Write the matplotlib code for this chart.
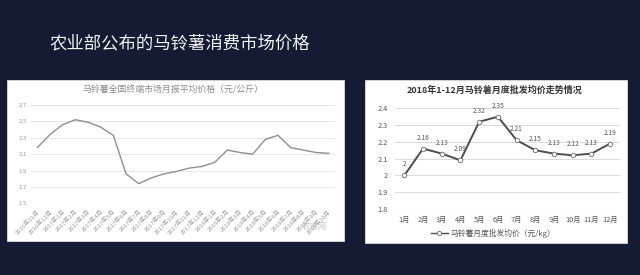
import numpy as np
import matplotlib
matplotlib.use("Agg")
import matplotlib.pyplot as plt
from matplotlib.patches import Rectangle
from matplotlib.lines import Line2D

plt.rcParams['font.family'] = ['Noto Sans CJK SC', 'DejaVu Sans']

# data
main_title = "农业部公布的马铃薯消费市场价格"

left_title = "马铃薯全国终端市场月报平均价格（元/公斤）"
left_months = ["2016年11月", "2016年12月"] + [f"2017年{m}月" for m in range(1, 13)] \
    + [f"2018年{m}月" for m in range(1, 11)]
left_prices = [2.18, 2.34, 2.46, 2.52, 2.49, 2.43, 2.33, 1.86, 1.74, 1.81, 1.86, 1.89,
               1.93, 1.95, 2.00, 2.15, 2.12, 2.10, 2.28, 2.33, 2.18, 2.15, 2.12, 2.11]
left_yticks = [1.5, 1.7, 1.9, 2.1, 2.3, 2.5, 2.7]

right_title = "2018年1-12月马铃薯月度批发均价走势情况"
right_months = [f"{m}月" for m in range(1, 13)]
right_prices = [2.00, 2.16, 2.13, 2.09, 2.32, 2.35, 2.21, 2.15, 2.13, 2.12, 2.13, 2.19]
right_yticks = [1.8, 1.9, 2.0, 2.1, 2.2, 2.3, 2.4]
right_legend = "马铃薯月度批发均价（元/kg）"

W, H = 640, 275
fig = plt.figure(figsize=(6.4, 2.75), dpi=100)
fig.patch.set_facecolor("#151b34")


def px(x0, y0, x1, y1):
    # pixel box (top-left origin) -> figure fraction rect
    return [x0 / W, 1 - y1 / H, (x1 - x0) / W, (y1 - y0) / H]


# white panels
for box in [px(7, 80, 344, 241), px(365, 80, 627, 243)]:
    fig.patches.append(Rectangle((box[0], box[1]), box[2], box[3],
                                 transform=fig.transFigure, facecolor="white",
                                 edgecolor="#dddddd", lw=0.6, zorder=-5))

fig.text(49 / W, 1 - 43 / H, main_title, color="#f2f2f2", fontsize=12.5,
         ha="left", va="center")

# left chart
ax1 = fig.add_axes(px(31, 105, 335, 203.3))
x1 = np.arange(len(left_prices))
ax1.plot(x1, left_prices, color="#8f8f8f", lw=1.0)
ax1.set_xlim(-0.5, len(left_prices) - 0.5)
ax1.set_ylim(1.5, 2.7)
ax1.set_yticks(left_yticks)
ax1.set_yticklabels([f"{v:.1f}" for v in left_yticks])
ax1.set_xticks(x1)
ax1.set_xticklabels(left_months, rotation=45, ha="right", rotation_mode="anchor")
ax1.tick_params(axis="x", length=0, colors="#999999", labelsize=4.3, pad=4)
ax1.tick_params(axis="y", length=0, colors="#999999", labelsize=4.3, pad=3)
ax1.grid(axis="y", color="#e8e8e8", lw=0.7)
ax1.set_axisbelow(True)
ax1.set_facecolor("none")
for s in ax1.spines.values():
    s.set_visible(False)
fig.text(173 / W, 1 - 90 / H, left_title, color="#8a8a8a", fontsize=6.4,
         ha="center", va="center")
fig.text(314 / W, 1 - 227 / H, "农资网", color="#b0b0b0", fontsize=6,
         ha="center", va="center", alpha=0.8)

# right chart
ax2 = fig.add_axes(px(395, 108.3, 619.5, 209))
x2 = np.arange(len(right_prices))
ax2.plot(x2, right_prices, color="#4d4d4d", lw=1.4, marker="o", ms=3.2,
         mfc="white", mec="#7a7a7a", mew=0.7, zorder=3)
for xi, v in zip(x2, right_prices):
    ax2.annotate(f"{v:g}", (xi, v), xytext=(0, 5), textcoords="offset points",
                 ha="center", va="bottom", fontsize=4.8, color="#555555")
ax2.set_xlim(-0.5, len(right_prices) - 0.5)
ax2.set_ylim(1.8, 2.4)
ax2.set_yticks(right_yticks)
ax2.set_yticklabels([f"{v:g}" for v in right_yticks])
ax2.set_xticks(x2)
ax2.set_xticklabels(right_months)
ax2.tick_params(axis="both", length=0, colors="#555555", labelsize=5.3, pad=5)
ax2.grid(axis="y", color="#d9d9d9", lw=0.7)
ax2.set_axisbelow(True)
ax2.set_facecolor("none")
for s in ax2.spines.values():
    s.set_visible(False)
ax2.axhline(1.8, color="#bbbbbb", lw=0.8, ls=(0, (1, 1)))
fig.text(495 / W, 1 - 90 / H, right_title, color="#333333", fontsize=6.5,
         fontweight="bold", ha="center", va="center")
handle = Line2D([], [], color="#4d4d4d", lw=1.0, marker="o", ms=3, mfc="white",
                mec="#7a7a7a", mew=0.7)
fig.legend([handle], [right_legend], loc="center", bbox_to_anchor=(493 / W, 1 - 233 / H),
           frameon=False, fontsize=5.6, handlelength=2.2, handletextpad=0.3,
           labelcolor="#555555")

fig.savefig("out.png", dpi=100, facecolor=fig.get_facecolor())
